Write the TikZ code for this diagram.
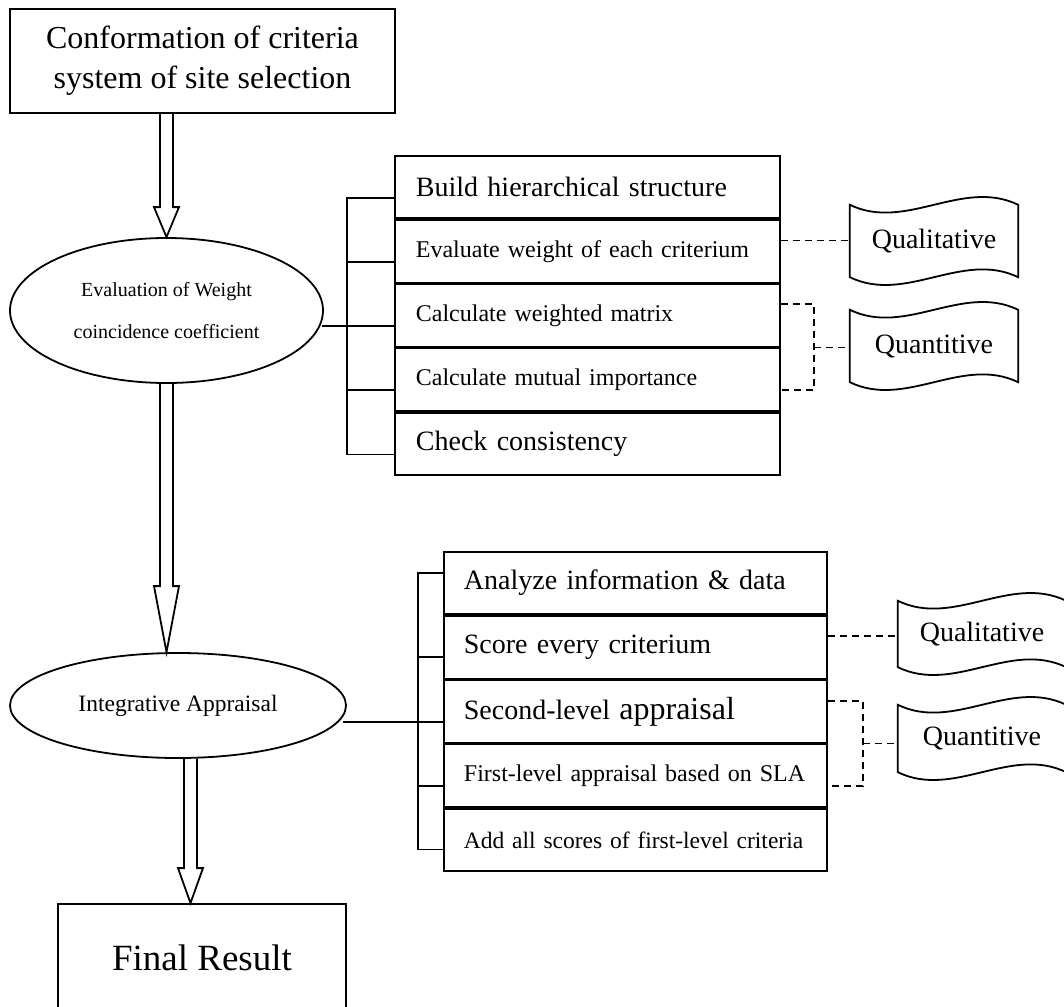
\documentclass[tikz,border=0pt]{standalone}
\usepackage{fontspec}
\setmainfont{Liberation Serif}
\usetikzlibrary{shapes.geometric,calc}

% font size helper: size and baseline skip in pt
\newcommand\fs[2]{\fontsize{#1}{#2}\selectfont}

% wavy "tape" outline drawn around a named node
\newcommand\tapeoutline[1]{%
  \draw[lw] (#1.north west) .. controls +(56,27) and +(-56,-27) .. (#1.north east)
    -- (#1.south east) .. controls +(-56,-27) and +(56,27) .. (#1.south west) -- cycle;}

% hollow block arrow from #1 down to #2, head length #3
\newcommand\hollowarrow[3]{%
  \draw[lw,line join=miter] ($(#1)+(-6.5,0)$) -- ($(#2)+(-6.5,-#3)$) -- ($(#2)+(-12.5,-#3)$)
    -- (#2) -- ($(#2)+(12.5,-#3)$) -- ($(#2)+(6.5,-#3)$) -- ($(#1)+(6.5,0)$);}

\begin{document}
\begin{tikzpicture}[x=1pt,y=-1pt,
  lw/.style={line width=1.8pt},
  dsh/.style={line width=1.7pt,dash pattern=on 7pt off 5pt},
  cell/.style={draw,lw,rectangle,minimum height=62.4pt,inner ysep=0pt,
    text width=343pt,align=left,anchor=north west},
  cellA/.style={cell,inner xsep=21pt},
  cellB/.style={cell,inner xsep=20pt},
  oval/.style={draw,lw,ellipse,inner sep=0pt,align=center},
  block/.style={draw,lw,rectangle,inner sep=0pt,align=center},
  tape/.style={inner sep=0pt,minimum width=168pt,font=\fs{28}{32}}
]
\useasboundingbox (0,0) rectangle (1064,1006);
\clip (0,0) rectangle (1064,1006);

% main column
\node[block,minimum width=385pt,minimum height=104pt,font=\fs{32}{40}] (top) at (202.5,61)
  {Conformation of criteria\\system of site selection};
\node[oval,minimum width=313pt,minimum height=145pt,font=\fs{20}{42}] (ell1) at (166.5,310.5)
  {Evaluation of Weight\\coincidence coefficient};
\node[oval,minimum width=336pt,minimum height=105pt,font=\fs{23.5}{28}] (ell2) at (178,705.5)
  {Integrative Appraisal};
\node[block,minimum width=288pt,minimum height=108pt,font=\fs{37}{42}] (final) at (202,958)
  {Final Result};

% block arrows
\coordinate (a1s) at (ell1.north |- top.south);
\coordinate (a1e) at (ell1.north);
\hollowarrow{a1s}{a1e}{30}
\coordinate (a2s) at (ell1.south);
\coordinate (a2e) at (ell1.south |- ell2.north);
\hollowarrow{a2s}{a2e}{66}
\coordinate (a3s) at ($(ell2.south)+(12.5,0)$);
\coordinate (a3e) at (a3s |- final.north);
\hollowarrow{a3s}{a3e}{35}

% weight evaluation steps
\node[cellA,font=\fs{28}{32}] (r1) at (394,155) {Build hierarchical structure};
\node[cellA,font=\fs{24}{28}] (r2) at (r1.south west) {Evaluate weight of each criterium};
\node[cellA,font=\fs{24}{28}] (r3) at (r2.south west) {Calculate weighted matrix};
\node[cellA,font=\fs{24}{28}] (r4) at (r3.south west) {Calculate mutual importance};
\node[cellA,font=\fs{28}{32}] (r5) at (r4.south west) {Check consistency};

% appraisal steps
\node[cellB,font=\fs{28}{32}] (s1) at (443,551) {Analyze information \& data};
\node[cellB,font=\fs{28}{32}] (s2) at (s1.south west) {Score every criterium};
\node[cellB,font=\fs{28}{32}] (s3) at (s2.south west) {Second-level {\fs{32}{34}appraisal}};
\node[cellB,font=\fs{24}{28}] (s4) at (s3.south west) {First-level appraisal based on SLA};
\node[cellB,font=\fs{23.5}{28}] (s5) at (s4.south west) {Add all scores of first-level criteria};

% method tapes
\node[tape,minimum height=72pt] (q1) at (934,241) {Qualitative};
\node[tape,minimum height=72pt] (n1) at (934,346) {Quantitive};
\node[tape,minimum height=66pt] (q2) at (982,634) {Qualitative};
\node[tape,minimum height=67pt] (n2) at (982,738.5) {Quantitive};
\tapeoutline{q1}
\tapeoutline{n1}
\tapeoutline{q2}
\tapeoutline{n2}

% bracket joining the weight steps
\coordinate (sp1) at (347,0);
\coordinate (k11) at ($(r1.west)+(0,10.6)$);
\coordinate (k12) at ($(r2.west)+(0,10.6)$);
\coordinate (k13) at ($(r3.west)+(0,10.6)$);
\coordinate (k14) at ($(r4.west)+(0,10.6)$);
\coordinate (k15) at ($(r5.west)+(0,10.6)$);
\draw[lw] (k11) -- (k11 -| sp1) -- (k15 -| sp1) -- (k15);
\foreach \k in {k12,k13,k14} \draw[lw] (\k -| sp1) -- (\k);
\draw[lw] (ell1.-4.3 |- k13) -- (k13 -| sp1);

% bracket joining the appraisal steps
\coordinate (sp2) at (418,0);
\coordinate (k21) at ($(s1.west)+(0,-10)$);
\coordinate (k22) at ($(s2.west)+(0,10)$);
\coordinate (k23) at ($(s3.west)+(0,10.4)$);
\coordinate (k24) at ($(s4.west)+(0,10)$);
\coordinate (k25) at ($(s5.west)+(0,9.6)$);
\draw[lw] (k21) -- (k21 -| sp2) -- (k25 -| sp2) -- (k25);
\foreach \k in {k22,k23,k24} \draw[lw] (\k -| sp2) -- (\k);
\draw[lw] (ell2.-4 |- k23) -- (k23 -| sp2);

% dashed links to the method tapes (weights)
\coordinate (d11) at ($(r2.east)+(0,-10.8)$);
\draw[dsh] (d11) -- (d11 -| q1.west);
\coordinate (dsp1) at (814,0);
\coordinate (d12) at ($(r3.east)+(0,-11.2)$);
\coordinate (d13) at ($(r4.east)+(0,10.4)$);
\draw[dsh] (d12) -- (d12 -| dsp1) -- (d13 -| dsp1) -- (d13);
\draw[dsh] (r3.south east -| dsp1) -- (r3.south east -| n1.west);

% dashed links to the method tapes (appraisal)
\coordinate (d21) at ($(s2.east)+(0,-11)$);
\draw[dsh] (d21) -- (d21 -| q2.west);
\coordinate (dsp2) at (863,0);
\coordinate (d22) at ($(s3.east)+(0,-10.6)$);
\coordinate (d23) at ($(s4.east)+(0,10)$);
\draw[dsh] (d22) -- (d22 -| dsp2) -- (d23 -| dsp2) -- (d23);
\draw[dsh] (s3.south east -| dsp2) -- (s3.south east -| n2.west);
\end{tikzpicture}
\end{document}
